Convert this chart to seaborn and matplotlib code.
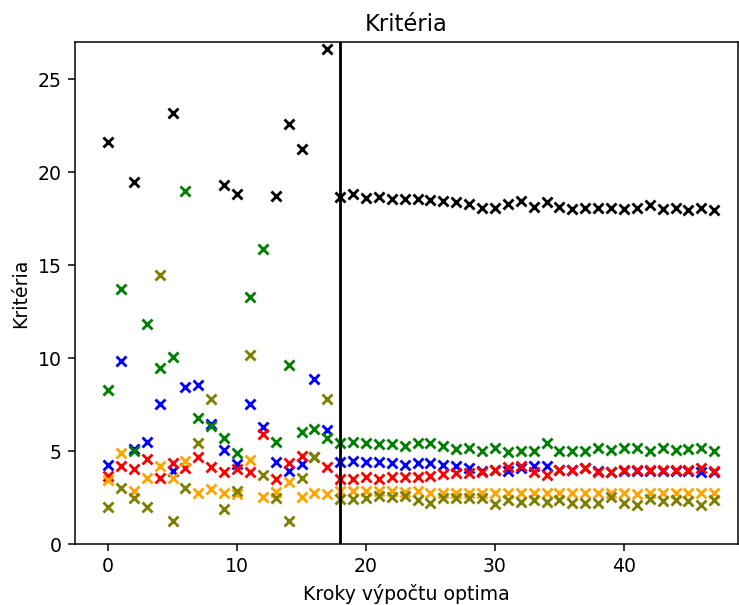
import numpy as np
import pandas as pd
import matplotlib
matplotlib.use("Agg")
import matplotlib.pyplot as plt
import seaborn as sns

nan = np.nan
steps = list(range(48))

black = [21.6, nan, 19.45, nan, nan, 23.2, nan, nan, nan, 19.3, 18.85, nan, nan, 18.73, 22.6, 21.27, nan, 26.6,
         18.67, 18.8, 18.62, 18.67, 18.58, 18.58, 18.58, 18.49, 18.44, 18.37, 18.31, 18.05, 18.05, 18.31, 18.44,
         18.1, 18.37, 18.1, 18.0, 18.05, 18.05, 18.05, 18.0, 18.05, 18.23, 18.0, 18.05, 17.96, 18.05, 17.96]
green = [8.28, 13.7, 5.02, 11.83, 9.44, 10.05, 19.0, 6.79, 6.34, 5.68, 4.91, 13.3, 15.86, 5.47, 9.62, 6.04, 6.18, 5.68,
         5.45, 5.50, 5.41, 5.36, 5.36, 5.27, 5.45, 5.45, 5.27, 5.09, 5.14, 5.02, 5.18, 4.96, 5.02, 5.02, 5.41,
         5.02, 5.02, 5.02, 5.14, 5.05, 5.14, 5.14, 5.02, 5.14, 5.05, 5.09, 5.14, 5.02]
blue = [4.25, 9.86, 5.09, 5.48, 7.53, 3.93, 8.46, 8.55, 6.45, 5.05, 4.28, 7.53, 6.31, 4.43, 3.94, 4.28, 8.87, 6.13,
        4.39, 4.46, 4.39, 4.39, 4.34, 4.25, 4.34, 4.34, 4.25, 4.19, 4.10, 3.95, 3.98, 3.90, 4.10, 4.19, 4.19,
        3.98, 4.0, 4.07, 3.92, 3.85, 3.92, 3.95, 3.95, 3.92, 3.95, 3.92, 3.85, 3.85]
red = [3.66, 4.21, 4.01, 4.59, 3.57, 4.34, 4.07, 4.66, 4.16, 3.89, 4.03, 3.89, 5.91, 3.49, 4.34, 4.75, 4.69, 4.16,
       3.49, 3.49, 3.58, 3.49, 3.58, 3.58, 3.58, 3.66, 3.76, 3.80, 3.80, 3.89, 3.98, 4.16, 4.21, 3.89, 3.72,
       3.98, 3.98, 4.07, 3.89, 3.89, 3.98, 3.98, 3.98, 3.98, 3.98, 3.98, 4.10, 3.92]
orange = [3.44, 4.87, 2.85, 3.53, 4.21, 3.57, 4.48, 2.76, 2.94, 2.76, 2.67, 4.52, 2.54, 2.81, 3.35, 2.54, 2.76, 2.67,
          2.87, 2.87, 2.87, 2.87, 2.87, 2.81, 2.87, 2.72, 2.76, 2.76, 2.76, 2.72, 2.72, 2.72, 2.72, 2.72, 2.72,
          2.72, 2.72, 2.72, 2.72, 2.76, 2.76, 2.70, 2.72, 2.72, 2.72, 2.72, 2.76, 2.76]
olive = [1.97, 3.03, 2.49, 2.01, 14.46, 1.25, 2.99, 5.41, 7.78, 1.86, 2.87, 10.16, 3.71, 2.49, 1.25, 3.57, 4.69, 7.8,
         2.42, 2.42, 2.46, 2.60, 2.53, 2.60, 2.37, 2.19, 2.49, 2.49, 2.46, 2.49, 2.13, 2.37, 2.24, 2.37, 2.24,
         2.37, 2.19, 2.19, 2.19, 2.55, 2.22, 2.11, 2.42, 2.31, 2.37, 2.31, 2.11, 2.37]

series = [("blue", blue), ("green", green), ("red", red), ("orange", orange), ("olive", olive), ("black", black)]
split_step = 18

DPI = 136
fig = plt.figure(figsize=(739 / DPI, 605 / DPI), dpi=DPI)
ax = fig.add_axes([75 / 739, 61 / 605, 663 / 739, 502 / 605])

for color, vals in series:
    df = pd.DataFrame({"step": steps, "value": vals}).dropna()
    sns.scatterplot(data=df, x="step", y="value", marker="x", color=color, s=28,
                    linewidth=1.5, ax=ax, legend=False)

ax.axvline(split_step, color="black", linewidth=1.5)
ax.set_xlim(-2.56, 48.84)
ax.set_ylim(0, 27.0)
ax.set_title("Kritéria")
ax.set_xlabel("Kroky výpočtu optima")
ax.set_ylabel("Kritéria")

fig.savefig("out.png", dpi=DPI)
